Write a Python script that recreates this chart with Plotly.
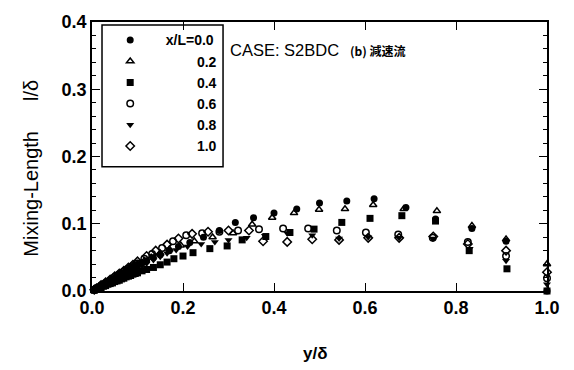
import plotly.graph_objects as go

# Mixing-length distributions l/δ versus y/δ at six streamwise stations x/L
X_00 = [0.005, 0.01, 0.015, 0.02, 0.025, 0.03, 0.035, 0.04, 0.045, 0.05, 0.055, 0.06, 0.065, 0.07,
        0.075, 0.08, 0.085, 0.09, 0.095, 0.10, 0.11, 0.12, 0.135, 0.15, 0.17, 0.19, 0.215, 0.245,
        0.28, 0.315, 0.355, 0.40, 0.45, 0.50, 0.56, 0.62, 0.69, 0.755, 0.835, 0.91, 1.0]
Y_00 = [0.002, 0.004, 0.006, 0.007, 0.010, 0.011, 0.014, 0.016, 0.018, 0.019, 0.022, 0.024, 0.026,
        0.027, 0.030, 0.032, 0.033, 0.036, 0.038, 0.039, 0.042, 0.045, 0.050, 0.054, 0.060, 0.066,
        0.072, 0.080, 0.090, 0.102, 0.109, 0.116, 0.122, 0.131, 0.134, 0.137, 0.124, 0.107, 0.093,
        0.074, 0.0]

X_02 = [0.005, 0.01, 0.015, 0.02, 0.03, 0.04, 0.05, 0.06, 0.07, 0.08, 0.09, 0.10, 0.115, 0.13, 0.15,
        0.17, 0.195, 0.225, 0.265, 0.31, 0.352, 0.396, 0.444, 0.499, 0.556, 0.618, 0.685, 0.758,
        0.835, 0.91, 1.0]
Y_02 = [0.002, 0.004, 0.006, 0.008, 0.012, 0.016, 0.020, 0.024, 0.028, 0.032, 0.036, 0.040, 0.045,
        0.050, 0.056, 0.062, 0.068, 0.074, 0.080, 0.086, 0.099, 0.109, 0.116, 0.121, 0.122, 0.128,
        0.122, 0.119, 0.097, 0.077, 0.040]

X_04 = [0.005, 0.01, 0.015, 0.02, 0.025, 0.03, 0.035, 0.04, 0.045, 0.05, 0.055, 0.06, 0.065, 0.07,
        0.075, 0.08, 0.085, 0.09, 0.095, 0.10, 0.11, 0.12, 0.135, 0.15, 0.165, 0.18, 0.20, 0.222,
        0.259, 0.297, 0.33, 0.382, 0.435, 0.488, 0.549, 0.611, 0.681, 0.755, 0.829, 0.912, 1.0]
Y_04 = [0.001, 0.003, 0.004, 0.005, 0.007, 0.008, 0.010, 0.011, 0.012, 0.014, 0.015, 0.016, 0.018,
        0.019, 0.021, 0.022, 0.023, 0.025, 0.026, 0.027, 0.030, 0.032, 0.035, 0.039, 0.043, 0.048,
        0.052, 0.057, 0.063, 0.067, 0.076, 0.081, 0.087, 0.092, 0.102, 0.108, 0.112, 0.104, 0.060,
        0.033, 0.0]

X_06 = [0.005, 0.01, 0.02, 0.03, 0.04, 0.05, 0.06, 0.07, 0.08, 0.09, 0.10, 0.115, 0.132, 0.154,
        0.178, 0.207, 0.242, 0.28, 0.321, 0.367, 0.42, 0.475, 0.538, 0.602, 0.673, 0.749, 0.826,
        0.91, 1.0]
Y_06 = [0.002, 0.004, 0.008, 0.012, 0.016, 0.021, 0.025, 0.029, 0.033, 0.037, 0.041, 0.048, 0.055,
        0.064, 0.074, 0.083, 0.086, 0.088, 0.090, 0.092, 0.093, 0.093, 0.090, 0.087, 0.084, 0.079,
        0.073, 0.052, 0.019]

X_08 = [0.005, 0.01, 0.015, 0.02, 0.025, 0.03, 0.035, 0.04, 0.045, 0.05, 0.055, 0.06, 0.065, 0.07,
        0.075, 0.08, 0.085, 0.09, 0.095, 0.10, 0.11, 0.12, 0.135, 0.15, 0.165, 0.185, 0.21, 0.24,
        0.27, 0.30, 0.34, 0.38, 0.429, 0.484, 0.543, 0.607, 0.675, 0.749, 0.83, 0.91, 1.0]
Y_08 = [0.002, 0.003, 0.005, 0.007, 0.009, 0.010, 0.012, 0.014, 0.015, 0.017, 0.019, 0.021, 0.022,
        0.024, 0.026, 0.027, 0.029, 0.031, 0.032, 0.034, 0.038, 0.041, 0.046, 0.051, 0.056, 0.061,
        0.066, 0.070, 0.073, 0.076, 0.079, 0.082, 0.086, 0.083, 0.078, 0.080, 0.079, 0.078, 0.063,
        0.045, 0.010]

X_10 = [0.005, 0.01, 0.02, 0.03, 0.04, 0.05, 0.06, 0.07, 0.08, 0.09, 0.10, 0.12, 0.14, 0.165, 0.19,
        0.22, 0.255, 0.30, 0.345, 0.376, 0.429, 0.484, 0.543, 0.607, 0.675, 0.75, 0.826, 0.91, 1.0]
Y_10 = [0.002, 0.004, 0.009, 0.013, 0.017, 0.022, 0.026, 0.030, 0.035, 0.039, 0.044, 0.052, 0.060,
        0.069, 0.078, 0.085, 0.088, 0.090, 0.090, 0.074, 0.073, 0.077, 0.076, 0.079, 0.079, 0.081,
        0.070, 0.060, 0.028]

FS = "\u2007"  # figure space, keeps the legend numbers right-aligned
LEGEND_NAMES = [FS * 2 + "x/L=0.0", FS * 6 + "0.2", FS * 6 + "0.4",
                FS * 6 + "0.6", FS * 6 + "0.8", FS * 6 + "1.0"]

BLACK = "#000000"
FONT = "Liberation Sans, Arial, sans-serif"

# (x, y, name, symbol, filled, legend rank); open symbols are drawn first
series = [
    (X_02, Y_02, LEGEND_NAMES[1], "triangle-up-open", False, 2),
    (X_06, Y_06, LEGEND_NAMES[3], "circle-open", False, 4),
    (X_10, Y_10, LEGEND_NAMES[5], "diamond-open", False, 6),
    (X_00, Y_00, LEGEND_NAMES[0], "circle", True, 1),
    (X_04, Y_04, LEGEND_NAMES[2], "square", True, 3),
    (X_08, Y_08, LEGEND_NAMES[4], "triangle-down", True, 5),
]

fig = go.Figure()
for xs, ys, name, sym, filled, rank in series:
    fig.add_trace(go.Scatter(
        x=xs, y=ys, mode="markers", name=name, legendrank=rank,
        legendgroup=str(rank),
        cliponaxis=False,
        marker=dict(symbol=sym, size=7 if filled else 6.5, color=BLACK,
                    line=dict(width=1.5 if not filled else 0, color=BLACK)),
    ))

axis_common = dict(
    showline=True, linecolor=BLACK, linewidth=1.5, mirror="allticks",
    ticks="inside", tickcolor=BLACK, tickwidth=1.2, ticklen=8,
    showgrid=False, zeroline=False, tickformat=".1f",
    tickfont=dict(family=FONT, size=18, color=BLACK, weight="bold"),
)

fig.update_layout(
    width=574, height=370,
    margin=dict(l=92, r=27, t=16, b=79),
    paper_bgcolor="white", plot_bgcolor="white",
    font=dict(family=FONT, color=BLACK),
    showlegend=True,
    legend=dict(
        x=0.04, y=0.991, xanchor="left", yanchor="top",
        bgcolor="rgba(0,0,0,0)", borderwidth=0,
        font=dict(family=FONT, size=14, color=BLACK, weight="bold"),
        tracegroupgap=0, itemsizing="trace",
    ),
    xaxis=dict(range=[0, 1], dtick=0.2, tick0=0, **axis_common),
    yaxis=dict(range=[0, 0.4], dtick=0.1, tick0=0,
               minor=dict(dtick=0.02, ticks="inside", ticklen=4, tickcolor=BLACK, tickwidth=1),
               **axis_common),
    shapes=[dict(type="rect", xref="paper", yref="paper",
                 x0=0.022, x1=0.288, y0=0.462, y1=0.989,
                 line=dict(color=BLACK, width=1.5), fillcolor="rgba(0,0,0,0)")],
    annotations=[
        dict(text="CASE: S2BDC", xref="paper", yref="paper", x=0.299, y=0.895,
             xanchor="left", yanchor="middle", showarrow=False,
             font=dict(family=FONT, size=16.5, color=BLACK)),
        dict(text="(b) 減速流", xref="paper", yref="paper", x=0.563, y=0.895,
             xanchor="left", yanchor="middle", showarrow=False,
             font=dict(family="Noto Sans CJK JP", size=12, color=BLACK, weight="bold")),
        dict(text="Mixing-Length\u2003\u2002l/δ", xref="paper", yref="paper", x=-0.134, y=0.455,
             xanchor="center", yanchor="middle", textangle=-90, showarrow=False,
             font=dict(family=FONT, size=20, color=BLACK)),
        dict(text="y/δ", xref="paper", yref="paper", x=0.492, y=-0.233,
             xanchor="center", yanchor="middle", showarrow=False,
             font=dict(family=FONT, size=17, color=BLACK, weight="bold")),
    ],
)

fig.write_html("out.html")
